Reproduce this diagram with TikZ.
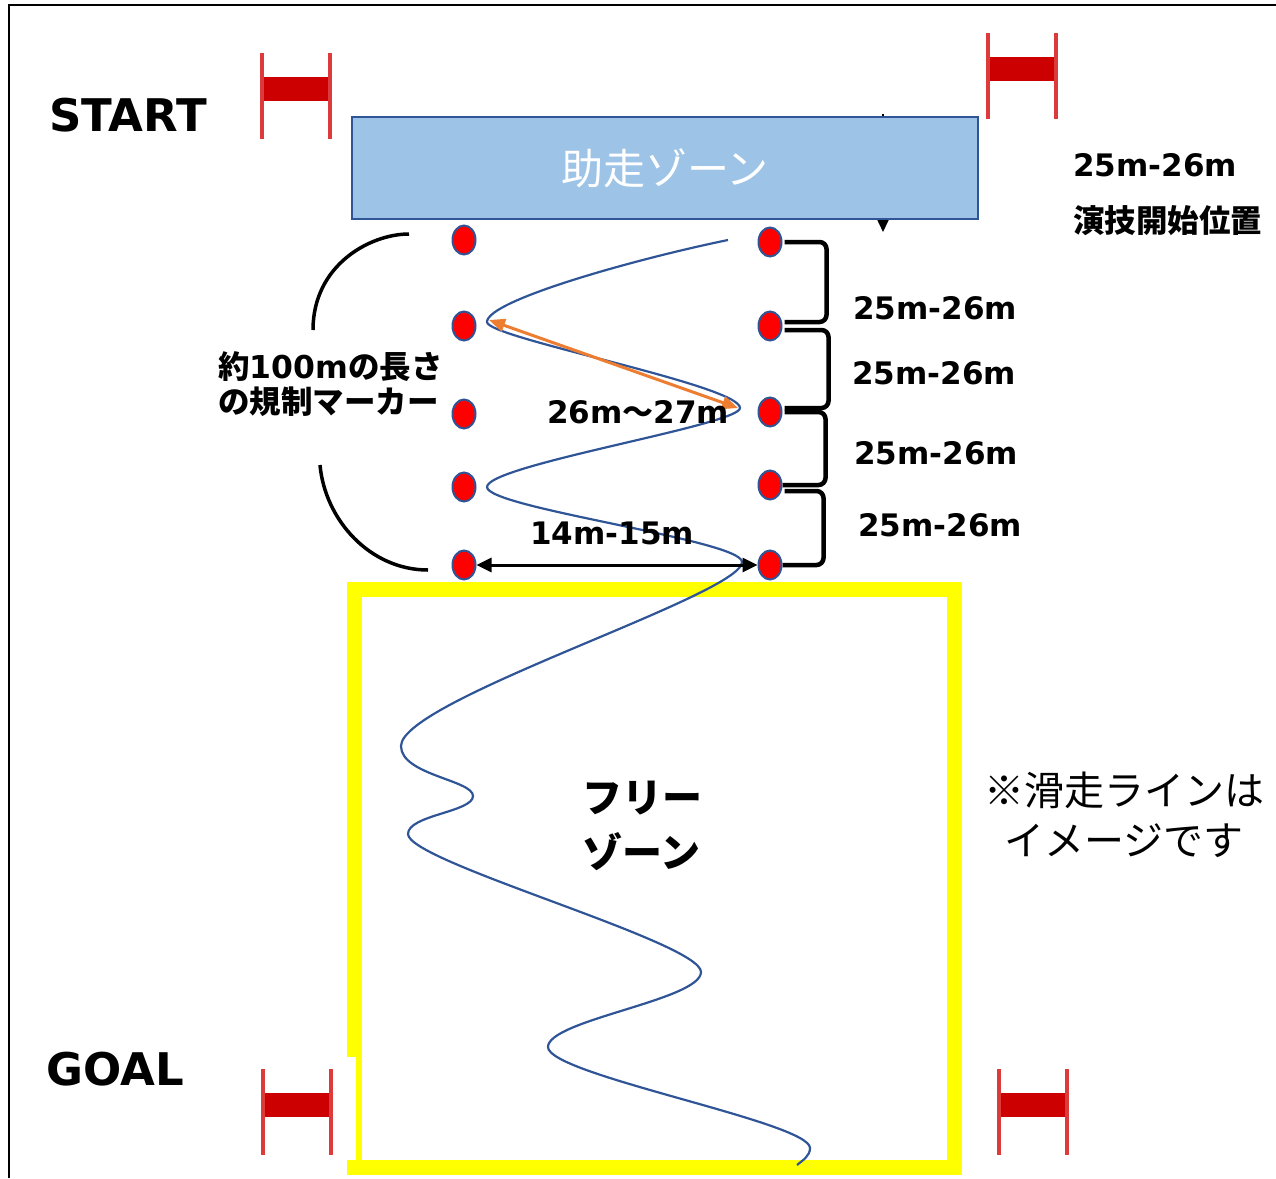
\documentclass[tikz,border=0pt]{standalone}
\usepackage{fontspec}
\setmainfont{DejaVu Sans}
\newfontfamily\jp{Noto Sans CJK JP}
\usetikzlibrary{arrows.meta,shapes.geometric,calc}
\definecolor{gatered}{HTML}{CC0000}
\definecolor{postred}{HTML}{DD3B3B}
\definecolor{runfill}{HTML}{9DC3E6}
\definecolor{navy}{HTML}{2F5597}
\definecolor{orng}{HTML}{ED7D31}
\definecolor{yel}{HTML}{FFFF00}
\tikzset{
  gatepost/.style={postred, line width=4},
  gate/.pic={\fill[gatered] (0,24) rectangle (68,48);
             \draw[gatepost] (0,0) -- (0,86) (68,0) -- (68,86);},
  marker/.style={ellipse, draw=navy, line width=2, fill=red,
                 minimum width=23, minimum height=29, inner sep=0},
  brk/.style={line width=4.5, rounded corners=7},
  lbl/.style={font=\bfseries\fontsize{31}{36}\selectfont, inner sep=0, anchor=west},
  bigl/.style={font=\bfseries\fontsize{45}{50}\selectfont, inner sep=0, anchor=west},
  skate/.style={navy, line width=2.2},
  arc/.style={line width=3.5},
}
\begin{document}
\begin{tikzpicture}[x=1pt,y=-1pt]
\useasboundingbox (0,0) rectangle (1276,1178);
% frame
\draw[line width=2.5] (9,1178) -- (9,5) -- (1276,5);
% gates
\pic at (262,53) {gate};
\pic at (988,33) {gate};
\pic at (263,1069) {gate};
\pic at (999,1069) {gate};
% start position arrow (behind box)
\coordinate (ptop) at (883,114);
\coordinate (pbot) at (883,232);
\draw[line width=1.5,-{Triangle[length=13,width=12]}] (ptop) -- (pbot);
% run-up zone
\node[draw=navy, line width=2, fill=runfill, minimum width=626, minimum height=102, inner sep=0,
      font=\jp\fontsize{42}{48}\selectfont, text=white] (run) at (665,168) {助走ゾーン};
% free zone
\draw[yel, line width=15] (354.5,589) rectangle (954.5,1167.5);
\fill[white] (346,1057) rectangle (356,1160);
\node[font=\jp\bfseries\fontsize{40}{55}\selectfont, align=left, inner sep=0, anchor=west]
  (free) at (582,826) {フリー\\ゾーン};
% skating line
\draw[skate] (728,240) .. controls (640,258) and (487,300) .. (487,322)
  .. controls (487,338) and (740,385) .. (740,408)
  .. controls (740,425) and (487,465) .. (487,487)
  .. controls (487,508) and (742,540) .. (742,562)
  .. controls (742,595) and (401,700) .. (401,746)
  .. controls (401,775) and (473,780) .. (473,796)
  .. controls (473,812) and (408,815) .. (408,834)
  .. controls (408,862) and (701,942) .. (701,972)
  .. controls (701,1000) and (548,1020) .. (548,1047)
  .. controls (548,1075) and (810,1122) .. (810,1148)
  .. controls (810,1156) and (803,1160) .. (797,1165);
% orange arrow
\coordinate (oR) at (738,408);
\coordinate (oL) at (489,320);
\draw[orng, line width=3, {Triangle[length=16,width=13]}-{Triangle[length=16,width=13]}] (oR) -- (oL);
% markers
\foreach \i/\y in {1/240,2/326,3/414,4/487,5/565} \node[marker] (L\i) at (464,\y) {};
\foreach \i/\y in {1/242,2/326,3/412,4/485,5/565} \node[marker] (R\i) at (770,\y) {};
% width arrow
\draw[line width=3, {Triangle[length=15,width=14]}-{Triangle[length=15,width=14]}] (L5.east) -- (R5.west);
% brackets
\draw[brk] ([xshift=2]R1.east) -| ([xshift=44,yshift=4]R2.east) -- ([xshift=2,yshift=4]R2.east);
\draw[brk] ([xshift=2,yshift=-4]R2.east) -| ([xshift=46,yshift=4]R3.east) -- ([xshift=2,yshift=4]R3.east);
\draw[brk] ([xshift=2]R3.east) -| ([xshift=43]R4.east) -- ([xshift=0]R4.east);
\draw[brk] ([xshift=2,yshift=-6]R4.east) -| ([xshift=41]R5.east) -- ([xshift=0]R5.east);
% left arcs
\draw[arc] (409,234) .. controls (370,234) and (313,265) .. (313,330);
\draw[arc] (320,465) .. controls (325,520) and (370,570) .. (428,570);
% labels
\node[bigl] (start) at (49,115) {START};
\node[bigl] (goal) at (46,1069) {GOAL};
\node[lbl] (d1) at (853,308) {25m-26m};
\node[lbl] (d2) at (852,373) {25m-26m};
\node[lbl] (d3) at (854,453) {25m-26m};
\node[lbl] (d4) at (858,525) {25m-26m};
\node[lbl] (top) at (1073,165) {25m-26m};
\node[lbl, font=\jp\bfseries\fontsize{31.5}{36}\selectfont] (pos) at (1073,221) {演技開始位置};
\node[lbl, font=\bfseries\fontsize{31.5}{35}\selectfont, align=left] (len) at (218,384)
  {{\jp 約}100m{\jp の長さ}\\{\jp の規制マーカー}};
\node[lbl] (diag) at (547,412) {26m{\jp 〜}27m};
\node[lbl] (wid) at (530,533) {14m-15m};
\node[font=\jp\fontsize{40}{50}\selectfont, align=center, inner sep=0] (note) at (1124,815)
  {※滑走ラインは\\イメージです};
\end{tikzpicture}
\end{document}
